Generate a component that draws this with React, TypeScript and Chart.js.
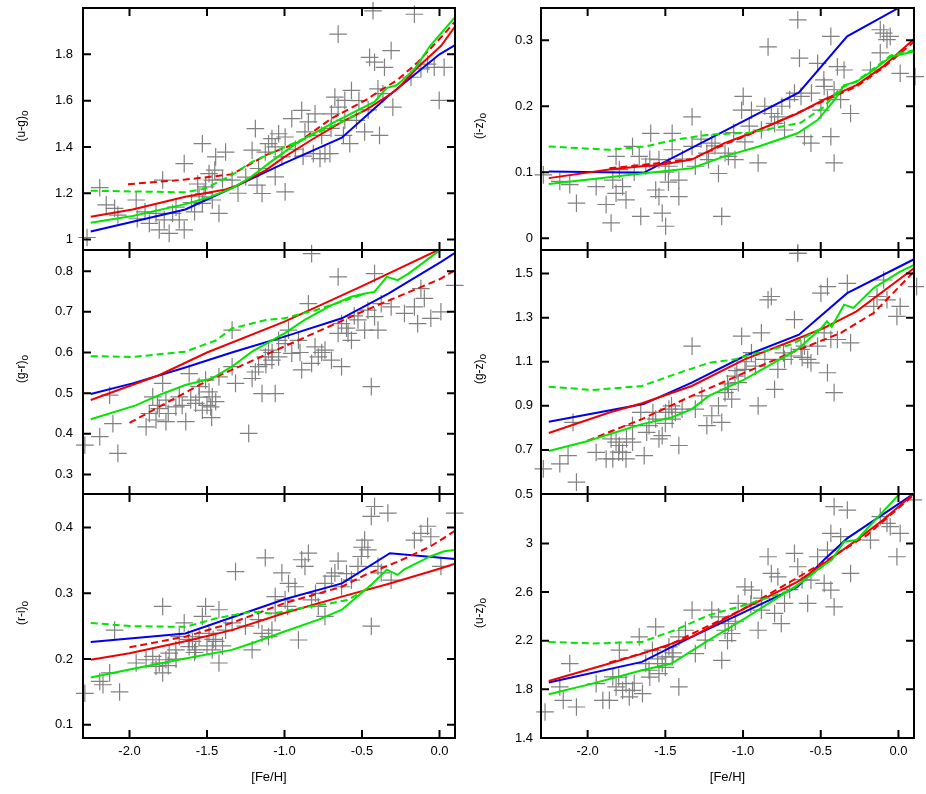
import React, { useEffect, useRef } from 'react';
import { Chart, registerables } from 'chart.js';

Chart.register(...registerables);
Chart.defaults.font.family = '"Liberation Sans", Arial, Helvetica, sans-serif';

// ---------------- data ----------------
const FEH_MIN = -2.3;
const FEH_MAX = 0.1;
const FEH_TICKS = [-2.0, -1.5, -1.0, -0.5, 0.0];

// (u-g)o panel
const UG_RANGE = [0.955, 2.0];
const UG_TICKS = [1.0, 1.2, 1.4, 1.6, 1.8];
const UG_STARS: number[][] = [
  [-2.274, 1.009], [-2.192, 1.224], [-2.096, 1.135], [-2.075, 1.106], [-1.957, 1.171], [-1.872, 1.07], [-1.829, 1.113],
  [-1.808, 1.042], [-1.776, 1.085], [-1.744, 1.027], [-1.722, 1.113], [-1.679, 1.085], [-1.647, 1.042], [-1.786, 1.257],
  [-1.647, 1.328], [-1.53, 1.414], [-1.551, 1.185], [-1.53, 1.156], [-1.509, 1.228], [-1.487, 1.285], [-1.466, 1.171],
  [-1.444, 1.357], [-1.423, 1.113], [-1.466, 1.257], [-1.519, 1.199], [-1.38, 1.378], [-1.338, 1.257], [-1.209, 1.386],
  [-1.188, 1.479], [-1.177, 1.235], [-1.145, 1.199], [-1.167, 1.307], [-1.124, 1.378], [-1.103, 1.414], [-1.081, 1.436],
  [-1.06, 1.4], [-1.038, 1.457], [-1.017, 1.357], [-0.996, 1.443], [-1.06, 1.271], [-0.996, 1.206], [-0.953, 1.522],
  [-0.889, 1.558], [-0.868, 1.465], [-0.846, 1.508], [-0.814, 1.371], [-0.803, 1.543], [-0.771, 1.35], [-0.739, 1.371],
  [-0.707, 1.371], [-0.697, 1.543], [-0.675, 1.615], [-0.654, 1.572], [-0.611, 1.601], [-0.611, 1.515], [-0.568, 1.644],
  [-0.536, 1.515], [-0.579, 1.414], [-0.483, 1.465], [-0.451, 1.787], [-0.419, 1.766], [-0.429, 1.988], [-0.397, 1.651],
  [-0.387, 1.45], [-0.365, 1.63], [-0.355, 1.744], [-0.312, 1.816], [-0.301, 1.572], [-0.654, 1.887], [-0.184, 1.701],
  [-0.162, 1.973], [-0.12, 1.737], [-0.077, 1.758], [-0.034, 1.744], [0.03, 1.744], [-0.002, 1.601],
  [-1.6, 1.16], [-1.58, 1.12], [-1.7, 1.14], [-1.9, 1.12], [-1.95, 1.09], [-2.15, 1.15], [-0.93, 1.39], [-0.88, 1.36],
  [-0.76, 1.45], [-0.7, 1.48], [-0.62, 1.45], [-0.46, 1.56], [-0.52, 1.6], [-1.25, 1.27], [-1.3, 1.2], [-1.4, 1.26],
  [-1.45, 1.3], [-1.56, 1.24],
];
const UG_BLUE: number[][] = [[-2.25, 1.035], [-1.64, 1.13], [-1.34, 1.222], [-1.0, 1.33], [-0.63, 1.44], [-0.33, 1.62], [0.0, 1.8], [0.1, 1.84]];
const UG_RED: number[][] = [[-2.25, 1.099], [-1.98, 1.13], [-1.64, 1.185], [-1.38, 1.216], [-1.3, 1.235], [-1.12, 1.3], [-1.0, 1.357], [-0.83, 1.429], [-0.63, 1.508], [-0.48, 1.558], [-0.33, 1.622], [-0.27, 1.651], [-0.14, 1.744], [0.01, 1.837], [0.1, 1.92]];
const UG_RED_D: number[][] = [[-2.01, 1.239], [-1.64, 1.259], [-1.34, 1.282], [-1.21, 1.33], [-1.12, 1.365], [-0.91, 1.42], [-0.7, 1.522], [-0.48, 1.601], [-0.38, 1.644], [-0.27, 1.69], [-0.14, 1.766], [0.03, 1.888], [0.1, 1.942]];
const UG_GREEN: number[][] = [[-2.25, 1.073], [-1.98, 1.102], [-1.64, 1.153], [-1.49, 1.182], [-1.34, 1.221], [-1.23, 1.264], [-1.08, 1.34], [-0.91, 1.422], [-0.7, 1.5], [-0.53, 1.558], [-0.42, 1.594], [-0.34, 1.655], [-0.28, 1.665], [-0.24, 1.687], [-0.16, 1.737], [-0.06, 1.837], [0.1, 1.96]];
const UG_GREEN_D: number[][] = [[-2.25, 1.211], [-1.64, 1.204], [-1.51, 1.221], [-1.34, 1.278], [-1.21, 1.335], [-1.02, 1.393], [-0.8, 1.457], [-0.63, 1.508], [-0.5, 1.55]];

// (i-z)o panel
const IZ_RANGE = [-0.018, 0.349];
const IZ_TICKS = [0, 0.1, 0.2, 0.3];
const IZ_STARS: number[][] = [
  [-2.285, 0.096], [-2.179, 0.086], [-2.115, 0.081], [-2.072, 0.053], [-1.945, 0.078], [-1.881, 0.051], [-1.849, 0.023],
  [-1.838, 0.088], [-1.817, 0.068], [-1.775, 0.078], [-1.753, 0.058], [-1.817, 0.124], [-1.796, 0.104], [-1.711, 0.139],
  [-1.668, 0.124], [-1.658, 0.033], [-1.626, 0.109], [-1.594, 0.159], [-1.562, 0.073], [-1.541, 0.119], [-1.541, 0.063],
  [-1.52, 0.038], [-1.498, 0.018], [-1.477, 0.109], [-1.456, 0.134], [-1.456, 0.159], [-1.413, 0.088], [-1.413, 0.063],
  [-1.328, 0.184], [-1.307, 0.109], [-1.328, 0.139], [-1.233, 0.129], [-1.222, 0.119], [-1.201, 0.144], [-1.158, 0.098],
  [-1.137, 0.033], [-1.116, 0.129], [-1.094, 0.124], [-1.052, 0.119], [-1.009, 0.194], [-0.999, 0.215], [-0.988, 0.146],
  [-0.946, 0.194], [-0.903, 0.114], [-0.882, 0.164], [-0.839, 0.29], [-0.818, 0.189], [-0.797, 0.174], [-0.776, 0.184],
  [-0.733, 0.164], [-0.669, 0.22], [-0.648, 0.331], [-0.637, 0.273], [-0.627, 0.215], [-0.605, 0.154], [-0.563, 0.144],
  [-0.52, 0.265], [-0.499, 0.194], [-0.478, 0.23], [-0.457, 0.21], [-0.435, 0.306], [-0.414, 0.225], [-0.414, 0.114],
  [-0.435, 0.154], [-0.393, 0.26], [-0.372, 0.21], [-0.35, 0.255], [-0.308, 0.189], [-0.117, 0.316], [-0.095, 0.311],
  [-0.074, 0.301], [-0.053, 0.306], [-0.117, 0.281], [0.011, 0.25], [0.107, 0.245], [-0.18, 0.255], [-0.648, -0.023],
  [-1.7, 0.1], [-1.6, 0.12], [-1.5, 0.1], [-1.48, 0.085], [-1.39, 0.12], [-1.27, 0.15], [-1.18, 0.14], [-1.06, 0.16],
  [-0.96, 0.17], [-0.86, 0.2], [-0.75, 0.2], [-0.7, 0.21], [-0.56, 0.22], [-0.48, 0.24],
];
const IZ_BLUE: number[][] = [[-2.25, 0.101], [-1.64, 0.099], [-0.64, 0.221], [-0.33, 0.306], [0.0, 0.349], [0.1, 0.37]];
const IZ_RED: number[][] = [[-2.25, 0.091], [-1.86, 0.104], [-1.65, 0.109], [-1.54, 0.111], [-1.33, 0.119], [-1.12, 0.144], [-0.95, 0.159], [-0.65, 0.189], [-0.48, 0.21], [-0.27, 0.232], [-0.1, 0.26], [0.1, 0.302]];
const IZ_RED_D: number[][] = [[-1.86, 0.106], [-1.65, 0.111], [-1.54, 0.114], [-1.33, 0.12], [-1.12, 0.142], [-0.95, 0.158], [-0.65, 0.19], [-0.48, 0.208], [-0.27, 0.23], [-0.1, 0.258], [0.1, 0.298]];
const IZ_GREEN: number[][] = [[-2.25, 0.082], [-1.65, 0.098], [-1.33, 0.106], [-1.12, 0.124], [-0.9, 0.139], [-0.65, 0.159], [-0.52, 0.179], [-0.41, 0.21], [-0.35, 0.232], [-0.27, 0.237], [-0.16, 0.255], [-0.05, 0.275], [0.1, 0.283]];
const IZ_GREEN_D: number[][] = [[-2.25, 0.139], [-1.86, 0.134], [-1.63, 0.139], [-1.44, 0.149], [-1.22, 0.157], [-0.95, 0.16], [-0.8, 0.167], [-0.63, 0.175], [-0.48, 0.199], [-0.37, 0.228], [-0.27, 0.238], [-0.16, 0.257], [-0.05, 0.277], [0.1, 0.285]];

// (g-r)o panel
const GR_RANGE = [0.252, 0.852];
const GR_TICKS = [0.3, 0.4, 0.5, 0.6, 0.7, 0.8];
const GR_STARS: number[][] = [
  [-2.288, 0.372], [-2.192, 0.393], [-2.107, 0.425], [-2.075, 0.352], [-2.128, 0.495], [-1.893, 0.417], [-1.872, 0.45],
  [-1.85, 0.491], [-1.829, 0.434], [-1.808, 0.462], [-1.786, 0.524], [-1.765, 0.483], [-1.765, 0.43], [-1.701, 0.466],
  [-1.679, 0.491], [-1.637, 0.43], [-1.615, 0.548], [-1.605, 0.483], [-1.573, 0.475], [-1.551, 0.516], [-1.53, 0.458],
  [-1.509, 0.532], [-1.487, 0.503], [-1.476, 0.466], [-1.466, 0.491], [-1.444, 0.479], [-1.423, 0.54], [-1.338, 0.655],
  [-1.338, 0.565], [-1.316, 0.524], [-1.231, 0.401], [-1.209, 0.536], [-1.188, 0.552], [-1.167, 0.565], [-1.145, 0.499],
  [-1.124, 0.589], [-1.103, 0.606], [-1.081, 0.581], [-1.06, 0.499], [-1.038, 0.63], [-1.038, 0.589], [-0.996, 0.622],
  [-0.974, 0.655], [-0.953, 0.598], [-0.91, 0.63], [-0.889, 0.557], [-0.846, 0.72], [-0.825, 0.573], [-0.803, 0.614],
  [-0.782, 0.589], [-0.739, 0.606], [-0.697, 0.581], [-0.654, 0.647], [-0.654, 0.786], [-0.632, 0.671], [-0.632, 0.565],
  [-0.59, 0.647], [-0.568, 0.63], [-0.526, 0.68], [-0.483, 0.655], [-0.462, 0.704], [-0.44, 0.516], [-0.419, 0.794],
  [-0.419, 0.688], [-0.397, 0.655], [-0.376, 0.72], [-0.312, 0.712], [-0.162, 0.712], [-0.141, 0.671], [-0.12, 0.757],
  [-0.098, 0.733], [-0.056, 0.684], [0.009, 0.7], [0.098, 0.765], [-0.226, 0.696], [-0.825, 0.843],
  [-1.82, 0.47], [-1.75, 0.45], [-1.66, 0.47], [-1.55, 0.49], [-1.5, 0.47], [-1.47, 0.44], [-1.12, 0.57], [-1.08, 0.6],
  [-0.9, 0.6], [-0.76, 0.6], [-0.6, 0.66], [-0.55, 0.69],
];
const GR_BLUE: number[][] = [[-2.25, 0.498], [-1.98, 0.524], [-1.64, 0.563], [-1.34, 0.6], [-1.0, 0.639], [-0.63, 0.684], [-0.33, 0.745], [0.01, 0.823], [0.1, 0.845]];
const GR_RED: number[][] = [[-2.25, 0.483], [-1.81, 0.544], [-1.5, 0.6], [-1.0, 0.676], [-0.5, 0.763], [-0.02, 0.85], [0.1, 0.87]];
const GR_RED_D: number[][] = [[-2.0, 0.427], [-1.5, 0.53], [-1.0, 0.615], [-0.5, 0.7], [0.0, 0.78], [0.1, 0.802]];
const GR_GREEN: number[][] = [[-2.25, 0.436], [-1.96, 0.47], [-1.81, 0.495], [-1.64, 0.52], [-1.47, 0.536], [-1.34, 0.565], [-1.21, 0.602], [-1.0, 0.647], [-0.87, 0.68], [-0.7, 0.716], [-0.57, 0.737], [-0.48, 0.745], [-0.42, 0.749], [-0.34, 0.786], [-0.27, 0.778], [-0.2, 0.794], [-0.01, 0.848], [0.1, 0.87]];
const GR_GREEN_D: number[][] = [[-2.25, 0.591], [-1.98, 0.589], [-1.64, 0.602], [-1.44, 0.63], [-1.34, 0.659], [-1.12, 0.68], [-1.0, 0.684], [-0.8, 0.704], [-0.63, 0.725], [-0.5, 0.742]];

// (g-z)o panel
const GZ_RANGE = [0.5, 1.607];
const GZ_TICKS = [0.5, 0.7, 0.9, 1.1, 1.3, 1.5];
const GZ_STARS: number[][] = [
  [-2.285, 0.614], [-2.179, 0.637], [-2.126, 0.674], [-2.094, 0.825], [-2.072, 0.554], [-1.945, 0.689], [-1.881, 0.659],
  [-1.849, 0.75], [-1.838, 0.659], [-1.817, 0.735], [-1.796, 0.72], [-1.775, 0.689], [-1.753, 0.659], [-1.711, 0.735],
  [-1.711, 0.81], [-1.658, 0.87], [-1.636, 0.674], [-1.605, 0.81], [-1.562, 0.84], [-1.541, 0.75], [-1.52, 0.765],
  [-1.498, 0.87], [-1.477, 0.885], [-1.456, 0.84], [-1.435, 0.87], [-1.413, 0.72], [-1.392, 0.885], [-1.328, 1.171],
  [-1.307, 0.885], [-1.265, 0.945], [-1.233, 0.81], [-1.201, 0.855], [-1.158, 0.9], [-1.137, 0.825], [-1.116, 0.96],
  [-1.094, 0.975], [-1.073, 0.93], [-1.052, 1.035], [-1.031, 1.005], [-1.009, 1.216], [-0.988, 1.065], [-0.946, 1.141],
  [-0.903, 0.9], [-0.882, 1.231], [-0.86, 1.111], [-0.839, 1.381], [-0.818, 1.396], [-0.797, 0.975], [-0.776, 1.065],
  [-0.733, 1.111], [-0.69, 1.126], [-0.669, 1.291], [-0.627, 1.156], [-0.605, 1.171], [-0.584, 1.111], [-0.563, 1.095],
  [-0.52, 1.171], [-0.499, 1.411], [-0.478, 1.231], [-0.457, 1.441], [-0.457, 1.05], [-0.435, 1.201], [-0.414, 0.96],
  [-0.393, 1.201], [-0.308, 1.186], [-0.329, 1.456], [-0.159, 1.351], [-0.138, 1.396], [-0.095, 1.471], [-0.074, 1.381],
  [0.011, 1.351], [-0.01, 1.306], [0.117, 1.441], [-0.648, 1.592],
  [-1.8, 0.69], [-1.75, 0.75], [-1.62, 0.78], [-1.58, 0.87], [-1.5, 0.82], [-1.46, 0.9], [-1.1, 1.0], [-1.04, 1.06],
  [-0.98, 1.1], [-0.92, 1.08], [-0.74, 1.14], [-0.62, 1.12],
];
const GZ_BLUE: number[][] = [[-2.25, 0.828], [-1.64, 0.908], [-1.33, 1.005], [-0.99, 1.126], [-0.64, 1.223], [-0.33, 1.411], [0.1, 1.565]];
const GZ_RED: number[][] = [[-2.25, 0.777], [-1.86, 0.87], [-1.65, 0.912], [-1.33, 0.99], [-0.99, 1.111], [-0.69, 1.193], [-0.48, 1.253], [-0.27, 1.329], [0.1, 1.524]];
const GZ_RED_D: number[][] = [[-2.0, 0.742], [-1.65, 0.84], [-1.33, 0.945], [-0.99, 1.05], [-0.69, 1.141], [-0.37, 1.231], [-0.16, 1.321], [0.1, 1.509]];
const GZ_GREEN: number[][] = [[-2.25, 0.695], [-2.01, 0.738], [-1.65, 0.817], [-1.46, 0.847], [-1.33, 0.885], [-1.22, 0.945], [-0.99, 1.02], [-0.65, 1.156], [-0.5, 1.25], [-0.46, 1.283], [-0.43, 1.258], [-0.35, 1.359], [-0.29, 1.344], [-0.16, 1.434], [0.01, 1.509], [0.1, 1.539]];
const GZ_GREEN_D: number[][] = [[-2.25, 0.987], [-1.97, 0.972], [-1.65, 0.99], [-1.44, 1.043], [-1.22, 1.095], [-1.05, 1.111], [-0.95, 1.133], [-0.69, 1.178], [-0.5, 1.25]];

// (r-i)o panel
const RI_RANGE = [0.08, 0.451];
const RI_TICKS = [0.1, 0.2, 0.3, 0.4];
const RI_STARS: number[][] = [
  [-2.288, 0.148], [-2.192, 0.166], [-2.171, 0.161], [-2.128, 0.179], [-2.096, 0.244], [-2.064, 0.15], [-1.957, 0.194],
  [-1.893, 0.199], [-1.85, 0.204], [-1.829, 0.189], [-1.808, 0.194], [-1.786, 0.179], [-1.786, 0.28], [-1.765, 0.199],
  [-1.744, 0.209], [-1.701, 0.214], [-1.679, 0.234], [-1.647, 0.255], [-1.615, 0.219], [-1.594, 0.227], [-1.573, 0.214],
  [-1.551, 0.234], [-1.53, 0.265], [-1.509, 0.28], [-1.487, 0.239], [-1.466, 0.214], [-1.444, 0.227], [-1.423, 0.194],
  [-1.423, 0.275], [-1.38, 0.244], [-1.338, 0.255], [-1.316, 0.333], [-1.252, 0.25], [-1.209, 0.214], [-1.167, 0.26],
  [-1.145, 0.239], [-1.124, 0.354], [-1.103, 0.234], [-1.081, 0.244], [-1.06, 0.295], [-1.017, 0.331], [-0.996, 0.29],
  [-0.974, 0.315], [-0.932, 0.31], [-0.91, 0.229], [-0.889, 0.351], [-0.868, 0.341], [-0.846, 0.361], [-0.825, 0.29],
  [-0.782, 0.28], [-0.739, 0.265], [-0.739, 0.315], [-0.697, 0.326], [-0.675, 0.331], [-0.654, 0.349], [-0.632, 0.31],
  [-0.568, 0.32], [-0.526, 0.341], [-0.504, 0.356], [-0.483, 0.381], [-0.462, 0.366], [-0.44, 0.417], [-0.44, 0.25],
  [-0.419, 0.432], [-0.397, 0.341], [-0.376, 0.331], [-0.333, 0.422], [-0.312, 0.32], [-0.162, 0.381], [-0.12, 0.391],
  [-0.077, 0.402], [-0.056, 0.386], [0.009, 0.341], [0.098, 0.422],
  [-1.75, 0.19], [-1.7, 0.2], [-1.62, 0.23], [-1.58, 0.21], [-1.5, 0.22], [-1.46, 0.23], [-1.4, 0.22], [-1.06, 0.27],
  [-0.98, 0.28], [-0.8, 0.3], [-0.6, 0.33], [-0.5, 0.37],
];
const RI_BLUE: number[][] = [[-2.25, 0.226], [-1.64, 0.239], [-1.0, 0.291], [-0.63, 0.315], [-0.32, 0.361], [0.1, 0.352]];
const RI_RED: number[][] = [[-2.25, 0.199], [-2.0, 0.209], [-1.64, 0.227], [-1.34, 0.244], [-1.0, 0.27], [-0.63, 0.295], [-0.32, 0.315], [0.01, 0.338], [0.1, 0.345]];
const RI_RED_D: number[][] = [[-2.0, 0.218], [-1.64, 0.234], [-1.34, 0.255], [-1.0, 0.285], [-0.63, 0.31], [-0.48, 0.328], [-0.27, 0.348], [-0.06, 0.371], [0.1, 0.395]];
const RI_GREEN: number[][] = [[-2.25, 0.172], [-2.0, 0.184], [-1.64, 0.201], [-1.34, 0.214], [-1.21, 0.224], [-1.0, 0.242], [-0.78, 0.26], [-0.63, 0.275], [-0.53, 0.295], [-0.44, 0.313], [-0.34, 0.336], [-0.27, 0.328], [-0.23, 0.336], [-0.06, 0.356], [0.03, 0.364], [0.1, 0.366]];
const RI_GREEN_D: number[][] = [[-2.25, 0.255], [-1.98, 0.25], [-1.64, 0.249], [-1.44, 0.262], [-1.21, 0.272], [-1.08, 0.269], [-0.91, 0.277], [-0.7, 0.285], [-0.59, 0.29], [-0.48, 0.305], [-0.44, 0.313]];

// (u-z)o panel
const UZ_RANGE = [1.4, 3.406];
const UZ_TICKS = [1.4, 1.8, 2.2, 2.6, 3.0];
const UZ_STARS: number[][] = [
  [-2.274, 1.614], [-2.179, 1.82], [-2.157, 1.71], [-2.115, 2.012], [-2.072, 1.655], [-1.945, 1.847], [-1.902, 1.71],
  [-1.86, 1.71], [-1.838, 1.902], [-1.817, 1.82], [-1.775, 1.792], [-1.796, 2.122], [-1.753, 1.847], [-1.732, 1.738],
  [-1.711, 1.792], [-1.668, 2.231], [-1.647, 1.765], [-1.626, 2.012], [-1.605, 1.957], [-1.583, 2.122], [-1.562, 2.314],
  [-1.541, 1.93], [-1.52, 2.012], [-1.498, 2.067], [-1.477, 2.149], [-1.456, 2.067], [-1.413, 1.82], [-1.413, 2.231],
  [-1.371, 2.286], [-1.328, 2.451], [-1.307, 2.094], [-1.243, 2.204], [-1.201, 2.451], [-1.158, 2.396], [-1.137, 2.039],
  [-1.116, 2.286], [-1.094, 2.341], [-1.073, 2.259], [-1.031, 2.506], [-0.988, 2.643], [-0.946, 2.616], [-0.903, 2.286],
  [-0.882, 2.451], [-0.839, 2.89], [-0.818, 2.753], [-0.797, 2.424], [-0.776, 2.725], [-0.754, 2.341], [-0.733, 2.506],
  [-0.669, 2.918], [-0.648, 2.808], [-0.584, 2.506], [-0.563, 2.698], [-0.52, 2.89], [-0.478, 2.671], [-0.457, 2.945],
  [-0.435, 3.082], [-0.435, 2.616], [-0.414, 3.302], [-0.414, 2.478], [-0.372, 3.055], [-0.329, 3.274], [-0.308, 2.753],
  [-0.18, 3.027], [-0.117, 3.22], [-0.074, 3.165], [-0.053, 3.137], [-0.01, 2.89], [0.011, 3.082], [0.096, 3.357],
  [-1.8, 1.9], [-1.7, 1.85], [-1.6, 1.9], [-1.55, 2.05], [-1.5, 1.98], [-1.45, 2.1], [-1.1, 2.2], [-1.05, 2.36],
  [-0.95, 2.5], [-0.88, 2.55], [-0.7, 2.62], [-0.62, 2.7],
];
const UZ_BLUE: number[][] = [[-2.25, 1.856], [-1.65, 2.026], [-1.33, 2.231], [-0.99, 2.437], [-0.65, 2.643], [-0.48, 2.863], [-0.33, 3.041], [0.1, 3.41]];
const UZ_RED: number[][] = [[-2.25, 1.869], [-1.86, 2.012], [-1.65, 2.094], [-1.33, 2.231], [-0.99, 2.465], [-0.65, 2.684], [-0.48, 2.835], [-0.27, 3.027], [-0.1, 3.192], [0.1, 3.41]];
const UZ_RED_D: number[][] = [[-1.86, 2.02], [-1.5, 2.15], [-1.0, 2.46], [-0.5, 2.83], [-0.2, 3.07], [0.1, 3.4]];
const UZ_GREEN: number[][] = [[-2.25, 1.759], [-1.97, 1.847], [-1.65, 1.957], [-1.46, 2.012], [-1.22, 2.204], [-0.99, 2.382], [-0.65, 2.657], [-0.48, 2.822], [-0.43, 2.863], [-0.35, 3.014], [-0.27, 3.027], [-0.16, 3.178], [-0.01, 3.384], [0.02, 3.42]];
const UZ_GREEN_D: number[][] = [[-2.25, 2.19], [-1.97, 2.177], [-1.65, 2.19], [-1.44, 2.286], [-1.22, 2.41], [-0.99, 2.492], [-0.69, 2.616], [-0.48, 2.82]];

// ---------------- styles ----------------
const RED = 'rgb(240,0,0)';
const BLUE = 'rgb(0,0,235)';
const GREEN = 'rgb(0,230,0)';
const STAR = 'rgb(128,128,128)';
const FONT = '"Liberation Sans", Arial, Helvetica, sans-serif';
const TICK_LEN = 8;

type Spec = {
  title: string;
  range: number[];
  ticks: number[];
  stars: number[][];
  blue: number[][];
  red: number[][];
  redD: number[][];
  green: number[][];
  greenD: number[][];
  col: number;
  row: number;
};

const PANELS: Spec[] = [
  { title: '(u-g)', range: UG_RANGE, ticks: UG_TICKS, stars: UG_STARS, blue: UG_BLUE, red: UG_RED, redD: UG_RED_D, green: UG_GREEN, greenD: UG_GREEN_D, col: 0, row: 0 },
  { title: '(i-z)', range: IZ_RANGE, ticks: IZ_TICKS, stars: IZ_STARS, blue: IZ_BLUE, red: IZ_RED, redD: IZ_RED_D, green: IZ_GREEN, greenD: IZ_GREEN_D, col: 1, row: 0 },
  { title: '(g-r)', range: GR_RANGE, ticks: GR_TICKS, stars: GR_STARS, blue: GR_BLUE, red: GR_RED, redD: GR_RED_D, green: GR_GREEN, greenD: GR_GREEN_D, col: 0, row: 1 },
  { title: '(g-z)', range: GZ_RANGE, ticks: GZ_TICKS, stars: GZ_STARS, blue: GZ_BLUE, red: GZ_RED, redD: GZ_RED_D, green: GZ_GREEN, greenD: GZ_GREEN_D, col: 1, row: 1 },
  { title: '(r-i)', range: RI_RANGE, ticks: RI_TICKS, stars: RI_STARS, blue: RI_BLUE, red: RI_RED, redD: RI_RED_D, green: RI_GREEN, greenD: RI_GREEN_D, col: 0, row: 2 },
  { title: '(u-z)', range: UZ_RANGE, ticks: UZ_TICKS, stars: UZ_STARS, blue: UZ_BLUE, red: UZ_RED, redD: UZ_RED_D, green: UZ_GREEN, greenD: UZ_GREEN_D, col: 1, row: 2 },
];

// layout (frames in page pixels)
const COLS = [
  { L: 83, R: 457, labelPad: 10 },
  { L: 541, R: 916, labelPad: 8 },
];
const ROWS = [
  { T: 8, B: 250 },
  { T: 250, B: 494 },
  { T: 494, B: 738 },
];
const AXIS_W = 83;
const PAD_T = 10;
const PAD_R = 8;
const PAD_B = 10;
const XAXIS_H = 56;

function lineDs(data: number[][], color: string, dashed: boolean, order: number) {
  return {
    data: data.map(([x, y]) => ({ x, y })),
    showLine: true,
    borderColor: color,
    backgroundColor: color,
    borderWidth: 2,
    borderDash: dashed ? [7, 4] : [],
    pointRadius: 0,
    pointHoverRadius: 0,
    tension: 0,
    fill: false,
    order,
  };
}

function starDs(data: number[][]) {
  return {
    data: data.map(([x, y]) => ({ x, y })),
    showLine: false,
    pointStyle: 'cross',
    pointRadius: 8.8,
    pointHoverRadius: 8.8,
    pointBorderColor: STAR,
    pointBackgroundColor: STAR,
    pointBorderWidth: 1.2,
    pointHoverBorderWidth: 1.2,
    borderColor: STAR,
    backgroundColor: STAR,
    clip: false,
    order: 10,
  };
}

function fmtY(v: number) {
  return String(Number(v.toFixed(2)));
}

function makePlugin(spec: Spec) {
  return {
    id: 'frameTicks',
    afterDatasetsDraw(chart: any) {
      const { ctx, chartArea: a, scales } = chart;
      const xs = scales.x;
      const ys = scales.y;
      ctx.save();
      ctx.strokeStyle = '#000';
      ctx.lineWidth = 2;
      ctx.setLineDash([]);
      ctx.beginPath();
      for (const v of FEH_TICKS) {
        const px = xs.getPixelForValue(v);
        ctx.moveTo(px, a.bottom);
        ctx.lineTo(px, a.bottom - TICK_LEN);
        ctx.moveTo(px, a.top);
        ctx.lineTo(px, a.top + TICK_LEN);
      }
      for (const v of spec.ticks) {
        const py = ys.getPixelForValue(v);
        ctx.moveTo(a.left, py);
        ctx.lineTo(a.left + TICK_LEN, py);
        ctx.moveTo(a.right, py);
        ctx.lineTo(a.right - TICK_LEN, py);
      }
      ctx.stroke();
      ctx.strokeRect(a.left, a.top, a.right - a.left, a.bottom - a.top);
      ctx.restore();
    },
    afterDraw(chart: any) {
      const { ctx, chartArea: a } = chart;
      ctx.save();
      ctx.fillStyle = '#000';
      ctx.translate(a.left - 58, (a.top + a.bottom) / 2 - 3);
      ctx.rotate(-Math.PI / 2);
      ctx.textAlign = 'left';
      ctx.textBaseline = 'alphabetic';
      ctx.font = '12px ' + FONT;
      const mainW = ctx.measureText(spec.title).width;
      ctx.font = '10px ' + FONT;
      const subW = ctx.measureText('o').width;
      const start = -(mainW + subW) / 2;
      ctx.font = '12px ' + FONT;
      ctx.fillText(spec.title, start, 0);
      ctx.font = '10px ' + FONT;
      ctx.fillText('o', start + mainW, 2.5);
      ctx.restore();
    },
  };
}

function geometry(spec: Spec) {
  const c = COLS[spec.col];
  const r = ROWS[spec.row];
  const bottom = spec.row === 2;
  const left = c.L - AXIS_W;
  const top = r.T - PAD_T;
  const width = AXIS_W + (c.R - c.L) + PAD_R;
  const height = PAD_T + (r.B - r.T) + (bottom ? XAXIS_H : PAD_B);
  return { left, top, width, height, bottom, labelPad: c.labelPad };
}

function Panel({ spec }: { spec: Spec }) {
  const ref = useRef<HTMLCanvasElement | null>(null);
  const g = geometry(spec);

  useEffect(() => {
    if (!ref.current) return;
    const chart = new Chart(ref.current, {
      type: 'scatter',
      data: {
        datasets: [
          starDs(spec.stars),
          lineDs(spec.blue, BLUE, false, 5),
          lineDs(spec.red, RED, false, 4),
          lineDs(spec.redD, RED, true, 3),
          lineDs(spec.greenD, GREEN, true, 2),
          lineDs(spec.green, GREEN, false, 1),
        ] as any,
      },
      options: {
        animation: false,
        responsive: false,
        maintainAspectRatio: false,
        devicePixelRatio: 1,
        events: [],
        layout: { padding: { left: 0, right: PAD_R, top: PAD_T, bottom: g.bottom ? 0 : PAD_B } },
        plugins: { legend: { display: false }, tooltip: { enabled: false }, title: { display: false } },
        scales: {
          x: {
            type: 'linear',
            position: 'bottom',
            min: FEH_MIN,
            max: FEH_MAX,
            display: g.bottom,
            grid: { display: false, drawTicks: false },
            border: { display: false },
            ticks: {
              color: '#000',
              font: { family: FONT, size: 13 },
              padding: 6,
              autoSkip: false,
              maxRotation: 0,
              callback: (v: any) => Number(v).toFixed(1),
            },
            title: {
              display: g.bottom,
              text: '[Fe/H]',
              color: '#000',
              font: { family: FONT, size: 13 },
              padding: { top: 0, bottom: 9 },
            },
            afterBuildTicks: (s: any) => {
              s.ticks = FEH_TICKS.map((v) => ({ value: v }));
            },
            afterFit: (s: any) => {
              s.height = g.bottom ? XAXIS_H : 0;
              s.paddingLeft = 0;
              s.paddingRight = 0;
              s.paddingTop = 0;
              s.paddingBottom = 0;
            },
          },
          y: {
            type: 'linear',
            position: 'left',
            min: spec.range[0],
            max: spec.range[1],
            grid: { display: false, drawTicks: false },
            border: { display: false },
            ticks: {
              color: '#000',
              font: { family: FONT, size: 13 },
              padding: g.labelPad,
              autoSkip: false,
              callback: (v: any) => fmtY(Number(v)),
            },
            afterBuildTicks: (s: any) => {
              s.ticks = spec.ticks.map((v) => ({ value: v }));
            },
            afterFit: (s: any) => {
              s.width = AXIS_W;
              s.paddingTop = 0;
              s.paddingBottom = 0;
              s.paddingLeft = 0;
              s.paddingRight = 0;
            },
          },
        },
      } as any,
      plugins: [makePlugin(spec) as any],
    });
    return () => chart.destroy();
  }, []);

  return (
    <canvas
      ref={ref}
      width={g.width}
      height={g.height}
      style={{ position: 'absolute', left: g.left, top: g.top, width: g.width, height: g.height, display: 'block' }}
    />
  );
}

export default function App() {
  return (
    <div style={{ position: 'absolute', left: 0, top: 0, width: 926, height: 794, background: '#fff', overflow: 'hidden' }}>
      {PANELS.map((p, i) => (
        <Panel key={i} spec={p} />
      ))}
    </div>
  );
}
